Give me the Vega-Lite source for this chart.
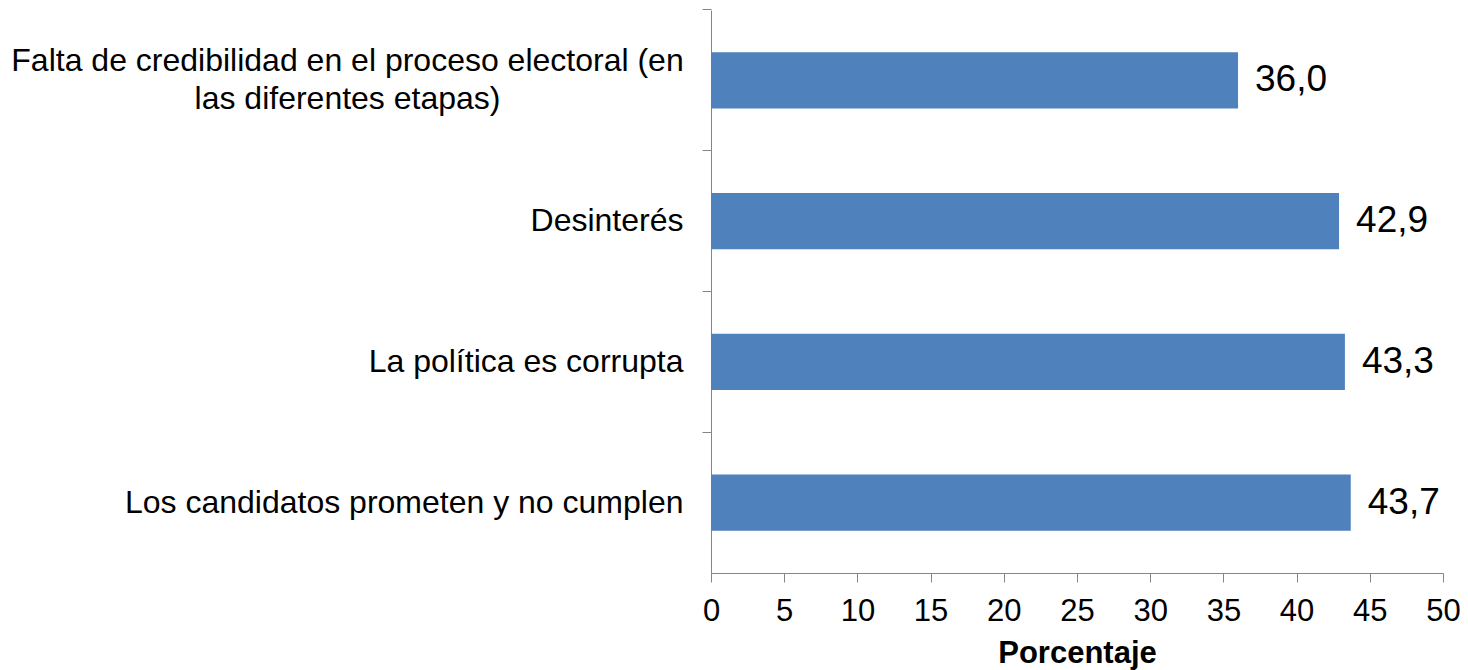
{
  "$schema": "https://vega.github.io/schema/vega-lite/v6.json",
  "width": 732,
  "height": 563,
  "autosize": {"type": "none"},
  "padding": {"left": 711, "top": 10, "right": 25, "bottom": 97},
  "background": "#ffffff",
  "config": {
    "view": {"stroke": null},
    "font": "Liberation Sans",
    "locale": {"number": {"decimal": ",", "thousands": ".", "grouping": [3], "currency": ["", " €"]}}
  },
  "data": {
    "values": [
      {"motivo": "Falta de credibilidad en el proceso electoral (en las diferentes etapas)", "porcentaje": 36.0},
      {"motivo": "Desinterés", "porcentaje": 42.9},
      {"motivo": "La política es corrupta", "porcentaje": 43.3},
      {"motivo": "Los candidatos prometen y no cumplen", "porcentaje": 43.7}
    ]
  },
  "encoding": {
    "y": {
      "field": "motivo",
      "type": "nominal",
      "sort": null,
      "scale": {"paddingInner": 0.6, "paddingOuter": 0.3},
      "axis": {
        "title": null,
        "domainColor": "#868686",
        "tickColor": "#868686",
        "tickSize": 9,
        "bandPosition": -0.75,
        "labelFontSize": 32,
        "labelColor": "#000000",
        "labelAlign": {"condition": {"test": "indexof(datum.value, 'Falta') == 0", "value": "center"}, "value": "right"},
        "labelPadding": {"condition": {"test": "indexof(datum.value, 'Falta') == 0", "value": 355}, "value": 19},
        "labelOffset": {"condition": {"test": "indexof(datum.value, 'Falta') == 0", "value": -19}, "value": 0},
        "labelLimit": 900,
        "labelLineHeight": 38,
        "labelExpr": "indexof(datum.value, 'Falta') == 0 ? ['Falta de credibilidad en el proceso electoral (en', 'las diferentes etapas)'] : datum.value"
      }
    },
    "x": {
      "field": "porcentaje",
      "type": "quantitative",
      "scale": {"domain": [0, 50], "nice": false},
      "axis": {
        "title": "Porcentaje",
        "titleFontSize": 31,
        "titleFontWeight": "bold",
        "titleColor": "#000000",
        "titlePadding": 12,
        "values": [0, 5, 10, 15, 20, 25, 30, 35, 40, 45, 50],
        "grid": false,
        "domainColor": "#868686",
        "tickColor": "#868686",
        "tickSize": 9,
        "labelFontSize": 31,
        "labelColor": "#000000",
        "labelPadding": 14,
        "labelFlush": false,
        "labelOverlap": false
      }
    }
  },
  "layer": [
    {"mark": {"type": "bar", "color": "#4F81BD"}},
    {
      "mark": {"type": "text", "align": "left", "baseline": "middle", "dx": 17, "fontSize": 37, "color": "#000000"},
      "encoding": {"text": {"field": "porcentaje", "type": "quantitative", "format": ".1f"}}
    }
  ]
}
